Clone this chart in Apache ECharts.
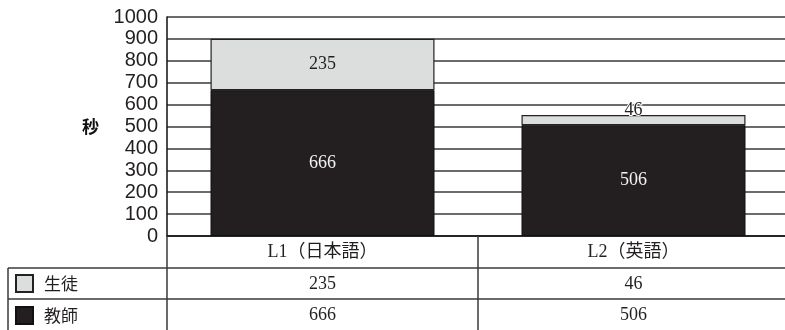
<!DOCTYPE html>
<html>
<head>
<meta charset="utf-8">
<script src="https://cdn.jsdelivr.net/npm/echarts@6/dist/echarts.min.js"></script>
<style>
  html, body { margin: 0; padding: 0; background: #fff; overflow: hidden; }
  #chart { width: 790px; height: 330px; }
</style>
</head>
<body>
<div id="chart"></div>
<script>
// Response time in seconds, split by speaker
const categories = ['L1（日本語）', 'L2（英語）'];
const teacherValues = [666, 506];   // 教師
const studentValues = [235, 46];    // 生徒
const yTicks = [0, 100, 200, 300, 400, 500, 600, 700, 800, 900, 1000];

const SERIF = '"Liberation Serif", "DejaVu Serif", "Noto Sans CJK JP", serif';
const SANS = '"Liberation Sans", Arial, sans-serif';
const CJK = '"Noto Sans CJK JP", sans-serif';

const chart = echarts.init(document.getElementById('chart'), null, { renderer: 'canvas' });

const LINE = '#3a3a3a';

chart.setOption({
  animation: false,
  backgroundColor: '#fff',
  grid: { left: 167, right: 1, top: 17, bottom: 94, containLabel: false },
  legend: {
    data: ['生徒', '教師'],
    orient: 'vertical',
    left: 15,
    top: 274,
    padding: 0,
    itemWidth: 17,
    itemHeight: 17,
    itemGap: 13,
    icon: 'rect',
    textStyle: { fontFamily: CJK, fontSize: 17, color: '#231f20', padding: [0, 0, 0, 6] },
    selectedMode: false
  },
  xAxis: {
    type: 'category',
    data: categories,
    axisLine: { show: true, lineStyle: { color: '#111', width: 1.5 } },
    axisTick: { show: true, length: 94, lineStyle: { color: LINE, width: 1.5 } },
    axisLabel: {
      margin: 1,
      interval: 0,
      formatter: function (value, idx) {
        return '{h|' + value + '}\n{v|' + studentValues[idx] + '}\n{v|' + teacherValues[idx] + '}';
      },
      rich: {
        h: { fontFamily: SERIF + ', ' + CJK, fontSize: 18, lineHeight: 31.5, color: '#231f20' },
        v: { fontFamily: SERIF, fontSize: 18, lineHeight: 31.5, color: '#231f20' }
      }
    }
  },
  yAxis: {
    type: 'value',
    min: yTicks[0],
    max: yTicks[yTicks.length - 1],
    interval: 100,
    name: '秒',
    nameLocation: 'middle',
    nameRotate: 0,
    nameGap: 68,
    nameTextStyle: { fontFamily: CJK, fontSize: 17, fontWeight: 'bold', color: '#111' },
    axisLine: { show: true, lineStyle: { color: '#111', width: 1.5 } },
    axisTick: { show: false },
    axisLabel: {
      fontFamily: SANS, fontSize: 20, color: '#231f20', margin: 9,
      formatter: function (v) { return String(v); }
    },
    splitLine: { show: true, lineStyle: { color: LINE, width: 1.5 } }
  },
  series: [
    {
      name: '教師',
      type: 'bar',
      stack: 'total',
      data: teacherValues,
      barWidth: 224,
      itemStyle: { color: '#231f20', borderColor: '#111', borderWidth: 1 },
      label: {
        show: true,
        position: 'inside',
        fontFamily: SERIF,
        fontSize: 18,
        color: '#f2f2f2'
      }
    },
    {
      name: '生徒',
      type: 'bar',
      stack: 'total',
      data: studentValues.map(function (v) {
        // the thin segment carries its label just above its centre, outlined for legibility
        if (v < 100) {
          return { value: v, label: { offset: [0, -10], textBorderColor: '#fff', textBorderWidth: 2 } };
        }
        return v;
      }),
      barWidth: 224,
      itemStyle: { color: '#dcdddd', borderColor: '#222', borderWidth: 1.2 },
      label: {
        show: true,
        position: 'inside',
        fontFamily: SERIF,
        fontSize: 18,
        color: '#231f20'
      }
    }
  ],
  graphic: [
    // table row rules and left border
    { type: 'line', shape: { x1: 8, y1: 268, x2: 790, y2: 268 }, style: { stroke: LINE, lineWidth: 1.5 } },
    { type: 'line', shape: { x1: 8, y1: 299, x2: 790, y2: 299 }, style: { stroke: LINE, lineWidth: 1.5 } },
    { type: 'line', shape: { x1: 8, y1: 268, x2: 8, y2: 330 }, style: { stroke: LINE, lineWidth: 1.5 } }
  ]
});
</script>
</body>
</html>
